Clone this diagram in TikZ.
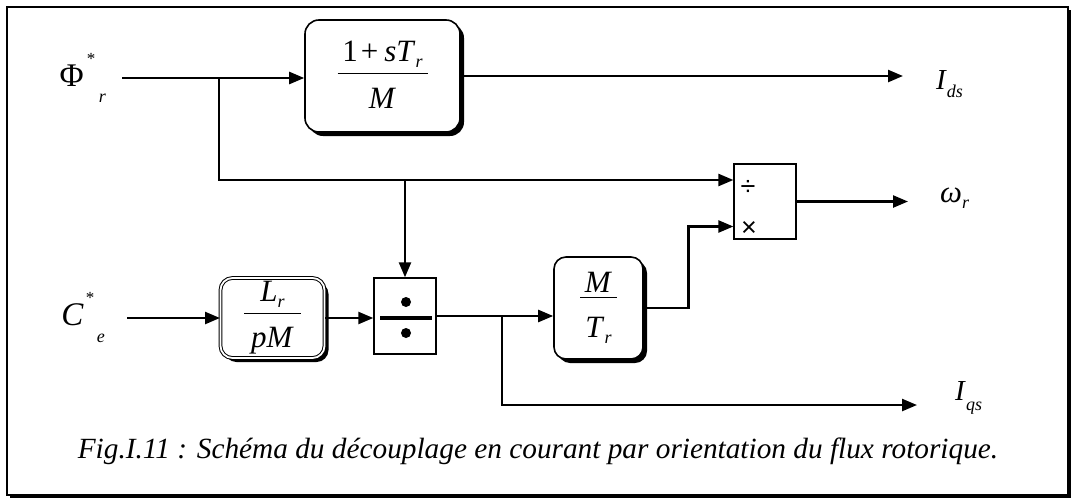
\documentclass[tikz,border=0pt]{standalone}
\usepackage{fontspec}
\setmainfont{Liberation Serif}
\newfontfamily\symfont{Liberation Sans}
\usetikzlibrary{arrows.meta,shadows,positioning}

\newcommand{\subs}[2][6pt]{\raisebox{-#1}{\fontsize{18}{18}\selectfont\itshape #2}}
\newcommand{\starup}{\makebox[0pt][l]{\raisebox{22pt}{\fontsize{17}{17}\selectfont *}}}
% gap above bar, height below bar, bar width, numerator, denominator
\newcommand{\bfrac}[5]{{\renewcommand{\arraystretch}{0.3}\setlength{\arrayrulewidth}{1pt}%
\begin{tabular}{@{}c@{}}\rule[-#1]{0pt}{#1}\makebox[#3]{#4}\\\hline\rule{0pt}{#2}#5\end{tabular}}}

\begin{document}
\begin{tikzpicture}[x=1pt,y=1pt,
font=\fontsize{29}{34}\selectfont,
sig/.style={line width=2.4pt,-{Triangle[length=15pt,width=12pt]}},
tfblk/.style={draw,line width=1.6pt,rounded corners=14pt,fill=white,inner sep=0pt,
  font=\fontsize{31}{36}\selectfont,
  drop shadow={shadow xshift=4pt,shadow yshift=-4pt,opacity=1,fill=black}},
opblk/.style={draw,line width=1.4pt,fill=white,inner sep=0pt},
lbl/.style={inner sep=0pt}]
\useasboundingbox (0,0) rectangle (1074,-501);
\draw[line width=1.5pt,fill=white,drop shadow={shadow xshift=3pt,shadow yshift=-3pt,opacity=1,fill=black}]
  (7,-7) rectangle (1068,-495);

\node[tfblk,minimum width=155pt,minimum height=112pt] (tfa) at (382.5,-76)
  {\bfrac{12pt}{34pt}{90pt}{1\hspace{3pt}+\hspace{6pt}\textit{sT}\subs{r}}{\textit{M}}};
\node[tfblk,double,line width=1pt,double distance=1.8pt,rounded corners=12pt,
  minimum width=104pt,minimum height=80pt] (tfb) at (272.5,-318)
  {\bfrac{11pt}{34pt}{57pt}{\textit{L}\subs{r}}{\textit{pM}}};
\node[tfblk,rounded corners=12pt,minimum width=89pt,minimum height=102pt] (tfc) at (598.5,-308)
  {\bfrac{4pt}{40pt}{37pt}{\textit{M}}{\textit{T}\subs{r}}};
\node[opblk,minimum width=62pt,minimum height=76pt] (dvd) at (405,-316) {};
\node[opblk,line width=1.2pt,minimum width=62pt,minimum height=75pt] (prd) at (765,-201.5) {};
\node[lbl,font=\symfont\fontsize{27}{27}\selectfont] (prdv) at (748,-188) {÷};
\node[lbl,font=\symfont\fontsize{27}{27}\selectfont] (prmu) at (749,-229) {×};
\draw[line width=4pt] ([xshift=-25pt,yshift=-2pt]dvd.center) -- ([xshift=27pt,yshift=-2pt]dvd.center);
\fill ([xshift=1pt,yshift=14pt]dvd.center) circle (5pt);
\fill ([xshift=1pt,yshift=-17pt]dvd.center) circle (5pt);

\coordinate (phiin) at (122,-78);
\coordinate (cein) at (127,-318);
\coordinate (j1) at (219,-78);
\coordinate (pdin1) at ([yshift=21.5pt]prd.west);
\coordinate (pdin2) at ([yshift=-25pt]prd.west);
\coordinate (j2) at (dvd.north |- pdin1);
\coordinate (j3) at (502,-316);
\coordinate (idsout) at (903,-77);
\coordinate (wrout) at (908,-198);
\coordinate (iqsout) at (917,-405);

\node[lbl,left=16pt of phiin,font=\fontsize{33}{38}\selectfont] (phi)
  {Φ\hspace{3pt}\starup\hspace{12pt}\subs[16pt]{r}};
\node[lbl,left=22pt of cein,font=\fontsize{33}{38}\selectfont] (ce)
  {\textit{C}\hspace{2pt}\starup\hspace{11pt}\subs[17pt]{e}};
\node[lbl,anchor=base west] (ids) at (936,-89) {\textit{I}\subs[8pt]{ds}};
\node[lbl,anchor=base west,font=\fontsize{31}{36}\selectfont] (wr) at (940,-202) {\textit{ω}\subs[6pt]{r}};
\node[lbl,anchor=base west] (iqs) at (955,-400) {\textit{I}\subs[10pt]{qs}};
\node[lbl,anchor=base,font=\fontsize{29.3}{34}\selectfont] (cap) at (538,-458)
  {\textit{Fig.I.11 : Schéma du découplage en courant par orientation du flux rotorique.}};

% signal lines
\draw[sig] (phiin) -- (phiin -| tfa.west);
\draw[sig] (j1) |- (pdin1);
\draw[sig] (j2) -- (dvd.north);
\draw[sig] (tfa.east) -- (tfa.east -| idsout);
\draw[sig] (cein) -- (cein -| tfb.west);
\draw[sig] (tfb.east) -- (tfb.east -| dvd.west);
\draw[sig] (dvd.east) -- (dvd.east -| tfc.west);
\draw[sig] (j3) |- (iqsout);
\draw[sig] (tfc.east) -| ([xshift=-45pt]pdin2) -- (pdin2);
\draw[sig] (prd.east) -- (prd.east -| wrout);
%\draw[sig] (tfc.east) |- (pdin2);
\end{tikzpicture}
\end{document}
